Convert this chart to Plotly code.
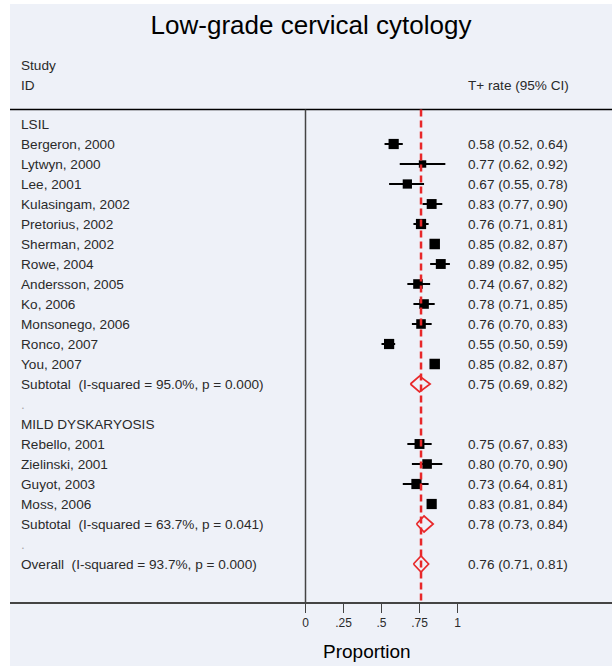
import plotly.graph_objects as go

# ---------------- data ----------------
title_text = "Low-grade cervical cytology"

group_names = ["LSIL", "MILD DYSKARYOSIS"]

lsil_studies = ["Bergeron, 2000", "Lytwyn, 2000", "Lee, 2001", "Kulasingam, 2002",
                "Pretorius, 2002", "Sherman, 2002", "Rowe, 2004", "Andersson, 2005",
                "Ko, 2006", "Monsonego, 2006", "Ronco, 2007", "You, 2007"]
lsil_est = [0.58, 0.77, 0.67, 0.83, 0.76, 0.85, 0.89, 0.74, 0.78, 0.76, 0.55, 0.85]
lsil_lo = [0.52, 0.62, 0.55, 0.77, 0.71, 0.82, 0.82, 0.67, 0.71, 0.70, 0.50, 0.82]
lsil_hi = [0.64, 0.92, 0.78, 0.90, 0.81, 0.87, 0.95, 0.82, 0.85, 0.83, 0.59, 0.87]
lsil_weight = [8.5, 4.5, 7.0, 8.0, 8.5, 9.0, 8.0, 7.5, 7.5, 7.5, 8.5, 9.0]

mild_studies = ["Rebello, 2001", "Zielinski, 2001", "Guyot, 2003", "Moss, 2006"]
mild_est = [0.75, 0.80, 0.73, 0.83]
mild_lo = [0.67, 0.70, 0.64, 0.81]
mild_hi = [0.83, 0.90, 0.81, 0.84]
mild_weight = [8.0, 7.5, 8.5, 8.5]

subtotal_labels = ["Subtotal\u00a0 (I-squared = 95.0%, p = 0.000)",
                   "Subtotal\u00a0 (I-squared = 63.7%, p = 0.041)"]
subtotal_est = [0.75, 0.78]
subtotal_lo = [0.69, 0.73]
subtotal_hi = [0.82, 0.84]

overall_label = "Overall\u00a0 (I-squared = 93.7%, p = 0.000)"
overall_est = 0.76
overall_lo = 0.71
overall_hi = 0.81

tick_vals = [0, 0.25, 0.5, 0.75, 1]
tick_text = ["0", ".25", ".5", ".75", "1"]
x_title = "Proportion"
col_head_left = ["Study", "ID"]
col_head_right = "T+ rate (95% CI)"

# ---------------- build rows ----------------
rows = []  # (label, kind, est, lo, hi, weight)
groups = [
    (group_names[0], lsil_studies, lsil_est, lsil_lo, lsil_hi, lsil_weight, 0),
    (group_names[1], mild_studies, mild_est, mild_lo, mild_hi, mild_weight, 1),
]
for gname, studs, e, l, h, w, gi in groups:
    rows.append((gname, "head", None, None, None, None))
    for s, ee, ll, hh, ww in zip(studs, e, l, h, w):
        rows.append((s, "study", ee, ll, hh, ww))
    rows.append((subtotal_labels[gi], "pooled", subtotal_est[gi], subtotal_lo[gi], subtotal_hi[gi], None))
    rows.append((".", "spacer", None, None, None, None))
rows.append((overall_label, "pooled", overall_est, overall_lo, overall_hi, None))

row_y = list(range(1, len(rows) + 1))

BG = "#EEF1F8"
TXT = "#2a2a2a"
FONT = "Liberation Sans, Arial, sans-serif"
FS = 13.6

fig = go.Figure()

# CI lines for studies (drawn first, boxes on top)
cx, cy = [], []
sx, sy, ss = [], [], []
for (lab, kind, e, l, h, w), y in zip(rows, row_y):
    if kind == "study":
        cx += [l, h, None]
        cy += [y, y, None]
        sx.append(e); sy.append(y)
        ss.append(3.5 * w ** 0.5)
fig.add_trace(go.Scatter(x=cx, y=cy, mode="lines", line=dict(color="black", width=2),
                         showlegend=False, hoverinfo="skip"))
fig.add_trace(go.Scatter(
    x=sx, y=sy, mode="markers",
    marker=dict(symbol="square", color="black", size=ss, opacity=1, line=dict(width=0)),
    showlegend=False, hoverinfo="skip"))

# diamonds for pooled estimates
half_h = 0.4
for (lab, kind, e, l, h, w), y in zip(rows, row_y):
    if kind == "pooled":
        fig.add_trace(go.Scatter(
            x=[l, e, h, e, l], y=[y, y - half_h, y, y + half_h, y],
            mode="lines", line=dict(color="#E8282A", width=1.7),
            showlegend=False, hoverinfo="skip"))

# row labels and values
LX = 9 / 602
RX = 456 / 602
annotations = []
for (lab, kind, e, l, h, w), y in zip(rows, row_y):
    annotations.append(dict(
        x=LX, xref="paper", y=y, yref="y", text=lab, showarrow=False,
        xanchor="left", yanchor="middle",
        font=dict(size=FS, color="#aaaaaa" if kind == "spacer" else TXT, family=FONT)))
    if e is not None:
        annotations.append(dict(
            x=RX, xref="paper", y=y, yref="y",
            text=f"{e:.2f} ({l:.2f}, {h:.2f})", showarrow=False,
            xanchor="left", yanchor="middle",
            font=dict(size=FS, color=TXT, family=FONT)))

annotations.append(dict(x=LX, xref="paper", y=-1.93, yref="y", text=col_head_left[0],
                        showarrow=False, xanchor="left", yanchor="middle",
                        font=dict(size=FS, color=TXT, family=FONT)))
annotations.append(dict(x=LX, xref="paper", y=-0.95, yref="y", text=col_head_left[1],
                        showarrow=False, xanchor="left", yanchor="middle",
                        font=dict(size=FS, color=TXT, family=FONT)))
annotations.append(dict(x=RX, xref="paper", y=-0.95, yref="y", text=col_head_right,
                        showarrow=False, xanchor="left", yanchor="middle",
                        font=dict(size=FS, color=TXT, family=FONT)))
annotations.append(dict(x=(367 - 10) / 602, xref="paper", y=-(651 - 602) / 598, yref="paper",
                        text=x_title, showarrow=False, xanchor="center", yanchor="middle",
                        font=dict(size=19, color="black", family=FONT)))

y_top_line = 0.28
y_bottom = 24.9
shapes = [
    # bottom background strip below the axis
    dict(type="rect", xref="paper", yref="paper", x0=0, x1=1, y0=-(666 - 602) / 598, y1=0,
         fillcolor=BG, line=dict(width=0), layer="below"),
    # top horizontal rule
    dict(type="line", xref="paper", yref="y", x0=0, x1=1, y0=y_top_line, y1=y_top_line,
         line=dict(color="black", width=1.5)),
    # null line at zero
    dict(type="line", xref="x", yref="y", x0=0, x1=0, y0=y_top_line, y1=y_bottom,
         line=dict(color="#444444", width=1.5)),
    # overall estimate dashed line
    dict(type="line", xref="x", yref="y", x0=overall_est, x1=overall_est, y0=y_top_line, y1=y_bottom,
         line=dict(color="#E8282A", width=2.5, dash="7px,4px")),
]

xmin = -(305.5 - 10) / 152
xmax = xmin + 602 / 152

fig.update_layout(
    width=612, height=667,
    margin=dict(l=10, r=0, t=4, b=65),
    paper_bgcolor="white", plot_bgcolor=BG,
    title=dict(text=title_text, x=(311 - 10) / 602, xref="paper", xanchor="center",
               y=1 - 25 / 667, yref="container", yanchor="middle",
               font=dict(size=26, color="black", family=FONT)),
    xaxis=dict(range=[xmin, xmax], tickvals=tick_vals, ticktext=tick_text,
               showgrid=False, zeroline=False, showline=True, linecolor="#444444", linewidth=2,
               ticks="outside", ticklen=9, tickwidth=1.3, tickcolor="#444444",
               tickfont=dict(size=12, color=TXT, family=FONT), fixedrange=True),
    yaxis=dict(range=[y_bottom, -5.0], visible=False, fixedrange=True),
    annotations=annotations, shapes=shapes,
    font=dict(family=FONT),
)

fig.write_html("out.html", config={"displayModeBar": False},
               post_script="document.body.style.margin='0';")
